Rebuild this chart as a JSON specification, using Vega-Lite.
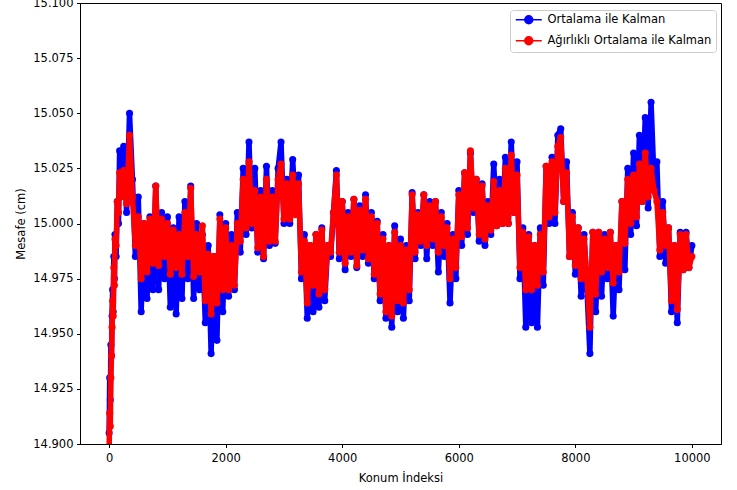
{
"$schema":"https://vega.github.io/schema/vega-lite/v6.json",
"width":641,"height":441,
"autosize":{"type":"none"},
"padding":{"left":80,"top":3,"right":16,"bottom":46},
"background":"white",
"config":{
"font":"DejaVu Sans",
"view":{"stroke":"#000","strokeWidth":1},
"axis":{"labelFont":"DejaVu Sans","labelFontSize":11.5,"labelColor":"#000","titleFont":"DejaVu Sans","titleFontSize":11.5,"titleFontWeight":"normal","titleColor":"#000","tickColor":"#000","tickSize":3.5,"domainColor":"#000","grid":false,"labelPadding":3.5,"labelOverlap":false}
},
"datasets":{
"ort":[
{"k":0,"m":14.905},{"k":10,"m":14.93},{"k":20,"m":14.92},{"k":30,"m":14.945},{"k":40,"m":14.94},{"k":50,"m":14.958},{"k":60,"m":14.97},{"k":70,"m":14.96},{"k":80,"m":14.985},{"k":90,"m":14.975},{"k":100,"m":14.995},{"k":120,"m":14.985},{"k":140,"m":15.01},{"k":160,"m":15.0},{"k":180,"m":15.033},
{"k":200,"m":15.015},{"k":250,"m":15.035},{"k":300,"m":15.005},{"k":350,"m":15.05},
{"k":400,"m":15.02},{"k":450,"m":14.985},{"k":500,"m":15.012},{"k":550,"m":14.96},
{"k":600,"m":15.0},{"k":650,"m":14.966},{"k":700,"m":15.003},{"k":750,"m":14.97},
{"k":800,"m":15.017},{"k":850,"m":14.97},{"k":900,"m":15.005},{"k":950,"m":14.975},
{"k":1000,"m":15.003},{"k":1050,"m":14.962},{"k":1100,"m":14.998},{"k":1150,"m":14.959},
{"k":1200,"m":15.003},{"k":1250,"m":14.966},{"k":1300,"m":15.01},{"k":1350,"m":14.975},
{"k":1400,"m":15.017},{"k":1450,"m":14.966},{"k":1500,"m":15.0},{"k":1550,"m":14.97},
{"k":1600,"m":14.995},{"k":1650,"m":14.955},{"k":1700,"m":14.99},{"k":1750,"m":14.941},
{"k":1800,"m":14.985},{"k":1850,"m":14.947},{"k":1900,"m":15.004},{"k":1950,"m":14.96},
{"k":2000,"m":15.0},{"k":2050,"m":14.967},{"k":2100,"m":14.995},{"k":2150,"m":14.97},
{"k":2200,"m":15.005},{"k":2250,"m":14.987},{"k":2300,"m":15.025},{"k":2350,"m":14.995},
{"k":2400,"m":15.037},{"k":2450,"m":14.998},{"k":2500,"m":15.025},{"k":2550,"m":14.987},
{"k":2600,"m":15.015},{"k":2650,"m":14.984},{"k":2700,"m":15.026},{"k":2750,"m":14.99},
{"k":2800,"m":15.015},{"k":2850,"m":14.991},{"k":2900,"m":15.025},{"k":2950,"m":15.037},
{"k":3000,"m":15.0},{"k":3050,"m":15.02},{"k":3100,"m":15.0},{"k":3150,"m":15.029},
{"k":3200,"m":15.005},{"k":3250,"m":15.022},{"k":3300,"m":14.975},{"k":3350,"m":14.995},
{"k":3400,"m":14.957},{"k":3450,"m":14.99},{"k":3500,"m":14.96},{"k":3550,"m":14.995},
{"k":3600,"m":14.962},{"k":3650,"m":14.998},{"k":3700,"m":14.965},{"k":3750,"m":14.99},
{"k":3800,"m":14.985},{"k":3850,"m":15.005},{"k":3900,"m":15.024},{"k":3950,"m":14.984},
{"k":4000,"m":15.01},{"k":4050,"m":14.979},{"k":4100,"m":15.005},{"k":4150,"m":14.985},
{"k":4200,"m":15.011},{"k":4250,"m":14.98},{"k":4300,"m":15.008},{"k":4350,"m":14.985},
{"k":4400,"m":15.013},{"k":4450,"m":14.982},{"k":4500,"m":15.005},{"k":4550,"m":14.975},
{"k":4600,"m":15.001},{"k":4650,"m":14.965},{"k":4700,"m":14.995},{"k":4750,"m":14.957},
{"k":4800,"m":14.99},{"k":4850,"m":14.953},{"k":4900,"m":14.999},{"k":4950,"m":14.96},
{"k":5000,"m":14.993},{"k":5050,"m":14.957},{"k":5100,"m":14.99},{"k":5150,"m":14.965},
{"k":5200,"m":15.014},{"k":5250,"m":14.984},{"k":5300,"m":15.005},{"k":5350,"m":14.99},
{"k":5400,"m":15.013},{"k":5450,"m":14.984},{"k":5500,"m":15.01},{"k":5550,"m":14.99},
{"k":5600,"m":15.01},{"k":5650,"m":14.978},{"k":5700,"m":15.005},{"k":5750,"m":14.985},
{"k":5800,"m":15.0},{"k":5850,"m":14.964},{"k":5900,"m":14.995},{"k":5950,"m":14.975},
{"k":6000,"m":15.015},{"k":6050,"m":14.99},{"k":6100,"m":15.023},{"k":6150,"m":14.995},
{"k":6200,"m":15.032},{"k":6250,"m":15.005},{"k":6300,"m":15.02},{"k":6350,"m":14.992},
{"k":6400,"m":15.018},{"k":6450,"m":14.99},{"k":6500,"m":15.01},{"k":6550,"m":14.995},
{"k":6600,"m":15.027},{"k":6650,"m":14.999},{"k":6700,"m":15.02},{"k":6750,"m":15.0},
{"k":6800,"m":15.03},{"k":6850,"m":15.0},{"k":6900,"m":15.037},{"k":6950,"m":15.005},
{"k":7000,"m":15.028},{"k":7050,"m":14.975},{"k":7100,"m":14.998},{"k":7150,"m":14.953},
{"k":7200,"m":14.995},{"k":7250,"m":14.955},{"k":7300,"m":14.99},{"k":7350,"m":14.953},
{"k":7400,"m":14.998},{"k":7450,"m":14.972},{"k":7500,"m":15.026},{"k":7550,"m":15.0},
{"k":7600,"m":15.03},{"k":7650,"m":15.0},{"k":7700,"m":15.04},{"k":7750,"m":15.043},
{"k":7800,"m":15.01},{"k":7850,"m":15.028},{"k":7900,"m":14.985},{"k":7950,"m":15.005},
{"k":8000,"m":14.977},{"k":8050,"m":14.998},{"k":8100,"m":14.967},{"k":8150,"m":14.995},
{"k":8200,"m":14.97},{"k":8250,"m":14.941},{"k":8300,"m":14.996},{"k":8350,"m":14.96},
{"k":8400,"m":14.996},{"k":8450,"m":14.967},{"k":8500,"m":14.995},{"k":8550,"m":14.975},
{"k":8600,"m":14.996},{"k":8650,"m":14.958},{"k":8700,"m":14.99},{"k":8750,"m":14.97},
{"k":8800,"m":15.01},{"k":8850,"m":14.979},{"k":8900,"m":15.025},{"k":8950,"m":14.995},
{"k":9000,"m":15.032},{"k":9050,"m":14.999},{"k":9100,"m":15.04},{"k":9150,"m":15.01},
{"k":9200,"m":15.048},{"k":9250,"m":15.007},{"k":9300,"m":15.055},{"k":9350,"m":15.02},
{"k":9400,"m":15.028},{"k":9450,"m":14.985},{"k":9500,"m":15.01},{"k":9550,"m":14.982},
{"k":9600,"m":14.998},{"k":9650,"m":14.96},{"k":9700,"m":14.99},{"k":9750,"m":14.955},
{"k":9800,"m":14.996},{"k":9850,"m":14.979},{"k":9900,"m":14.996},{"k":9950,"m":14.98},
{"k":10000,"m":14.99}
],
"agr":[
{"k":0,"m":14.898},{"k":10,"m":14.914},{"k":20,"m":14.908},{"k":30,"m":14.93},{"k":40,"m":14.94},{"k":50,"m":14.953},{"k":60,"m":14.965},{"k":70,"m":14.958},{"k":80,"m":14.98},{"k":90,"m":14.972},{"k":100,"m":14.993},{"k":120,"m":14.99},{"k":140,"m":15.01},{"k":160,"m":15.005},{"k":180,"m":15.023},
{"k":200,"m":15.012},{"k":250,"m":15.024},{"k":300,"m":15.009},{"k":350,"m":15.04},
{"k":400,"m":15.012},{"k":450,"m":14.99},{"k":500,"m":15.003},{"k":550,"m":14.975},
{"k":600,"m":15.0},{"k":650,"m":14.978},{"k":700,"m":15.002},{"k":750,"m":14.982},
{"k":800,"m":15.017},{"k":850,"m":14.981},{"k":900,"m":15.002},{"k":950,"m":14.985},
{"k":1000,"m":15.0},{"k":1050,"m":14.977},{"k":1100,"m":14.997},{"k":1150,"m":14.98},
{"k":1200,"m":14.995},{"k":1250,"m":14.977},{"k":1300,"m":15.005},{"k":1350,"m":14.985},
{"k":1400,"m":15.016},{"k":1450,"m":14.976},{"k":1500,"m":14.995},{"k":1550,"m":14.978},
{"k":1600,"m":14.999},{"k":1650,"m":14.965},{"k":1700,"m":14.986},{"k":1750,"m":14.959},
{"k":1800,"m":14.985},{"k":1850,"m":14.964},{"k":1900,"m":15.002},{"k":1950,"m":14.97},
{"k":2000,"m":14.998},{"k":2050,"m":14.97},{"k":2100,"m":14.99},{"k":2150,"m":14.972},
{"k":2200,"m":15.0},{"k":2250,"m":14.992},{"k":2300,"m":15.02},{"k":2350,"m":14.998},
{"k":2400,"m":15.028},{"k":2450,"m":15.0},{"k":2500,"m":15.015},{"k":2550,"m":14.989},
{"k":2600,"m":15.012},{"k":2650,"m":14.985},{"k":2700,"m":15.02},{"k":2750,"m":14.992},
{"k":2800,"m":15.012},{"k":2850,"m":14.992},{"k":2900,"m":15.02},{"k":2950,"m":15.027},
{"k":3000,"m":15.002},{"k":3050,"m":15.018},{"k":3100,"m":15.002},{"k":3150,"m":15.022},
{"k":3200,"m":15.004},{"k":3250,"m":15.018},{"k":3300,"m":14.978},{"k":3350,"m":14.992},
{"k":3400,"m":14.964},{"k":3450,"m":14.99},{"k":3500,"m":14.972},{"k":3550,"m":14.995},
{"k":3600,"m":14.968},{"k":3650,"m":14.997},{"k":3700,"m":14.97},{"k":3750,"m":14.99},
{"k":3800,"m":14.987},{"k":3850,"m":15.005},{"k":3900,"m":15.022},{"k":3950,"m":14.987},
{"k":4000,"m":15.01},{"k":4050,"m":14.982},{"k":4100,"m":15.003},{"k":4150,"m":14.987},
{"k":4200,"m":15.011},{"k":4250,"m":14.981},{"k":4300,"m":15.006},{"k":4350,"m":14.988},
{"k":4400,"m":15.011},{"k":4450,"m":14.984},{"k":4500,"m":15.003},{"k":4550,"m":14.977},
{"k":4600,"m":15.0},{"k":4650,"m":14.968},{"k":4700,"m":14.993},{"k":4750,"m":14.96},
{"k":4800,"m":14.99},{"k":4850,"m":14.958},{"k":4900,"m":14.996},{"k":4950,"m":14.965},
{"k":5000,"m":14.99},{"k":5050,"m":14.964},{"k":5100,"m":14.988},{"k":5150,"m":14.97},
{"k":5200,"m":15.013},{"k":5250,"m":14.987},{"k":5300,"m":15.004},{"k":5350,"m":14.992},
{"k":5400,"m":15.013},{"k":5450,"m":14.99},{"k":5500,"m":15.008},{"k":5550,"m":14.993},
{"k":5600,"m":15.01},{"k":5650,"m":14.987},{"k":5700,"m":15.003},{"k":5750,"m":14.99},
{"k":5800,"m":14.998},{"k":5850,"m":14.975},{"k":5900,"m":14.993},{"k":5950,"m":14.98},
{"k":6000,"m":15.013},{"k":6050,"m":14.994},{"k":6100,"m":15.023},{"k":6150,"m":14.998},
{"k":6200,"m":15.033},{"k":6250,"m":15.007},{"k":6300,"m":15.02},{"k":6350,"m":14.995},
{"k":6400,"m":15.017},{"k":6450,"m":14.993},{"k":6500,"m":15.008},{"k":6550,"m":14.997},
{"k":6600,"m":15.019},{"k":6650,"m":14.999},{"k":6700,"m":15.015},{"k":6750,"m":15.0},
{"k":6800,"m":15.025},{"k":6850,"m":15.0},{"k":6900,"m":15.031},{"k":6950,"m":15.005},
{"k":7000,"m":15.022},{"k":7050,"m":14.98},{"k":7100,"m":14.996},{"k":7150,"m":14.97},
{"k":7200,"m":14.994},{"k":7250,"m":14.97},{"k":7300,"m":14.99},{"k":7350,"m":14.972},
{"k":7400,"m":14.995},{"k":7450,"m":14.978},{"k":7500,"m":15.026},{"k":7550,"m":15.003},
{"k":7600,"m":15.028},{"k":7650,"m":15.005},{"k":7700,"m":15.035},{"k":7750,"m":15.039},
{"k":7800,"m":15.01},{"k":7850,"m":15.023},{"k":7900,"m":14.985},{"k":7950,"m":15.003},
{"k":8000,"m":14.981},{"k":8050,"m":14.998},{"k":8100,"m":14.975},{"k":8150,"m":14.993},
{"k":8200,"m":14.975},{"k":8250,"m":14.953},{"k":8300,"m":14.996},{"k":8350,"m":14.968},
{"k":8400,"m":14.996},{"k":8450,"m":14.978},{"k":8500,"m":14.993},{"k":8550,"m":14.98},
{"k":8600,"m":14.996},{"k":8650,"m":14.973},{"k":8700,"m":14.99},{"k":8750,"m":14.978},
{"k":8800,"m":15.01},{"k":8850,"m":14.991},{"k":8900,"m":15.02},{"k":8950,"m":15.0},
{"k":9000,"m":15.022},{"k":9050,"m":15.003},{"k":9100,"m":15.027},{"k":9150,"m":15.01},
{"k":9200,"m":15.032},{"k":9250,"m":15.012},{"k":9300,"m":15.025},{"k":9350,"m":15.015},
{"k":9400,"m":15.01},{"k":9450,"m":14.988},{"k":9500,"m":15.005},{"k":9550,"m":14.99},
{"k":9600,"m":14.998},{"k":9650,"m":14.965},{"k":9700,"m":14.99},{"k":9750,"m":14.961},
{"k":9800,"m":14.995},{"k":9850,"m":14.979},{"k":9900,"m":14.995},{"k":9950,"m":14.98},
{"k":10000,"m":14.985}
]
},
"encoding":{
"x":{"field":"k","type":"quantitative","scale":{"domain":[-500,10500],"nice":false,"zero":false},"axis":{"values":[0,2000,4000,6000,8000,10000],"format":"d","title":"Konum İndeksi","labelPadding":5,"titlePadding":8}},
"y":{"field":"m","type":"quantitative","scale":{"domain":[14.9,15.1],"nice":false,"zero":false},"axis":{"values":[14.9,14.925,14.95,14.975,15.0,15.025,15.05,15.075,15.1],"format":".3f","title":"Mesafe (cm)","titlePadding":6}}
},
"layer":[
{"data":{"name":"ort"},"mark":{"type":"line","strokeWidth":5.5,"strokeJoin":"round","strokeCap":"round","clip":true},"encoding":{"color":{"datum":"Ortalama ile Kalman"}}},
{"data":{"name":"ort"},"mark":{"type":"point","filled":true,"size":50,"opacity":1,"strokeWidth":0,"clip":true},"encoding":{"color":{"datum":"Ortalama ile Kalman"}}},
{"data":{"name":"agr"},"mark":{"type":"line","strokeWidth":5.5,"strokeJoin":"round","strokeCap":"round","clip":true},"encoding":{"color":{"datum":"Ağırlıklı Ortalama ile Kalman"}}},
{"data":{"name":"agr"},"mark":{"type":"point","filled":true,"size":50,"opacity":1,"strokeWidth":0,"clip":true},"encoding":{"color":{"datum":"Ağırlıklı Ortalama ile Kalman","scale":{"domain":["Ortalama ile Kalman","Ağırlıklı Ortalama ile Kalman"],"range":["#0000ff","#ff0000"]},"legend":{"orient":"none","legendX":430,"legendY":7,"title":null,"symbolType":"M-1,0L5.5,0M1.25,0A1,1 0 1,0 3.25,0A1,1 0 1,0 1.25,0Z","symbolSize":64,"symbolStrokeWidth":1.5,"symbolOpacity":1,"labelFont":"DejaVu Sans","labelFontSize":11.5,"labelColor":"#000","labelOffset":22,"labelLimit":400,"padding":4,"rowPadding":6,"strokeColor":"#cccccc","fillColor":"white","cornerRadius":3,"encode":{"symbols":{"update":{"fill":{"scale":"color","field":"value"},"stroke":{"scale":"color","field":"value"}}}}}}}}
]
}
